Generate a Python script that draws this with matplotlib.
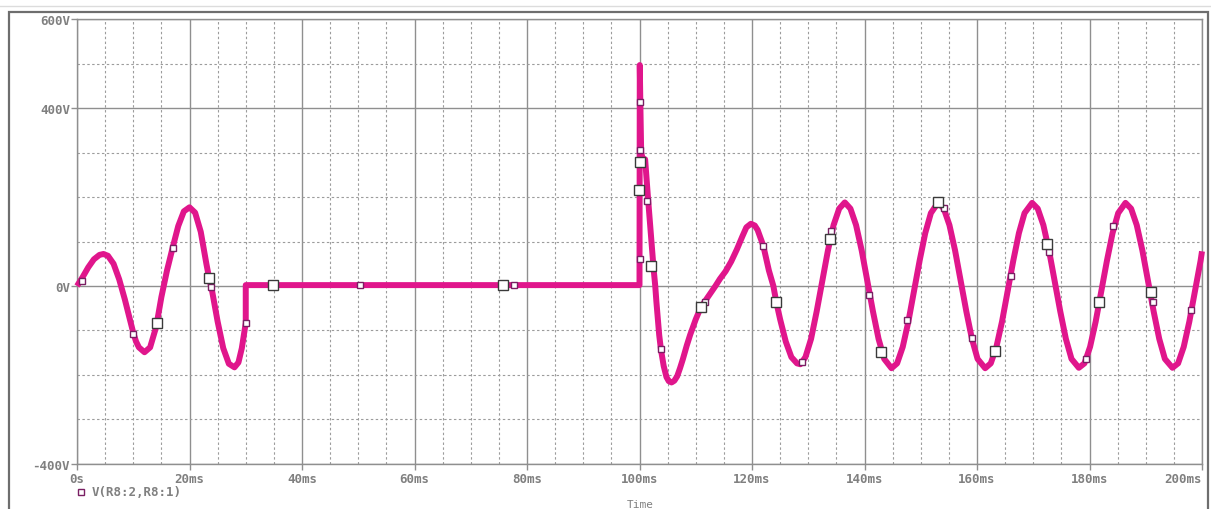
import matplotlib
matplotlib.use("Agg")
import matplotlib.pyplot as plt
from matplotlib.patches import Rectangle

# ---------------- data (time in ms, voltage in V) ----------------
t_ms = [0, 1, 2, 3, 4, 4.7, 5.5, 6.5, 7.5, 8.5, 9.5, 10, 10.5, 11, 12, 13, 14, 14.2, 15, 16,
        17, 18, 19, 20, 21, 22, 23, 23.5, 24, 25, 26, 27, 28, 28.7, 29.3, 30, 30,
        50, 75, 100,
        100.05, 100.15, 100.3, 100.6, 101.0, 101.5, 102.0, 102.5, 102.8, 103.0, 103.5, 103.8,
        104.3, 104.8, 105.2, 105.7, 106.2, 106.7, 107.2, 107.7, 108.4, 109, 110, 110.9, 111.6,
        112.5, 113.5, 114.3, 115.3, 116.3, 117.3, 118.3, 119, 119.8, 120.5, 121, 122, 123,
        123.8, 124.3, 125, 126, 127, 128, 128.6,
        129.5, 130.5, 131.5, 132.5, 133.5, 134.5, 135.5, 136.5,
        137.5, 138.5, 139.5, 140.5, 141.5, 142.5, 143.5, 144.8,
        145.8, 146.8, 147.8, 148.8, 149.8, 150.8, 151.8, 153.1,
        154.1, 155.1, 156.1, 157.1, 158.1, 159.1, 160.1, 161.45,
        162.45, 163.45, 164.45, 165.45, 166.45, 167.45, 168.45, 169.8,
        170.8, 171.8, 172.8, 173.8, 174.8, 175.8, 176.8, 178.1,
        179.1, 180.1, 181.1, 182.1, 183.1, 184.1, 185.1, 186.4,
        187.4, 188.4, 189.4, 190.4, 191.4, 192.4, 193.4, 194.75,
        195.75, 196.75, 197.75, 198.75, 199.75, 200.0]
v_volts = [0, 20, 42, 60, 70, 72, 68, 50, 15, -30, -80, -105, -125, -138, -149, -138, -95, -83, -25, 35,
           86, 135, 168, 177, 165, 122, 50, 17, -10, -80, -140, -175, -183, -172, -140, -83, 2,
           2, 2, 2,
           497, 410, 300, 285, 285, 200, 120, 40, 0, -35, -110, -142,
           -180, -205, -214, -217, -213, -203, -185, -165, -134, -110, -75, -48, -35,
           -18, 0, 16, 33, 55, 82, 112, 132, 140, 136, 126, 91, 35,
           0, -35, -75, -125, -160, -174, -176,
           -160, -119, -57, 12, 80, 137, 174, 188,
           174, 137, 80, 12, -57, -119, -164, -185,
           -174, -137, -80, -12, 57, 119, 164, 188,
           174, 137, 80, 12, -57, -119, -164, -185,
           -174, -137, -80, -12, 57, 119, 164, 187,
           174, 137, 80, 12, -57, -119, -164, -184,
           -174, -137, -80, -12, 57, 119, 164, 187,
           174, 137, 80, 12, -57, -119, -164, -184,
           -174, -137, -80, -12, 57, 78]

small_mark_t = [0.8, 10, 17, 23.9, 30, 50.3, 77.6, 100.0, 100.1, 100.0, 101.4, 103.8, 111.6, 122.0,
                128.8, 134.0, 140.8, 147.6, 154.1, 159.1, 166.0, 172.8, 179.4, 184.2, 191.2, 198.0]
small_mark_v = [12, -108, 86, -2, -83, 2, 2, 415, 305, 61, 192, -142, -35, 91,
                -170, 123, -20, -76, 175, -118, 23, 76, -164, 136, -35, -53]

big_mark_t = [14.2, 23.5, 34.9, 75.7, 100.1, 99.9, 102.1, 110.9, 124.3, 133.9, 142.9, 153.1,
              163.2, 172.5, 181.6, 190.9]
big_mark_v = [-83, 17, 2, 2, 278, 215, 46, -48, -35, 106, -148, 188,
              -146, 95, -35, -14]

x_major = [0, 20, 40, 60, 80, 100, 120, 140, 160, 180, 200]
x_labels = ["0s", "20ms", "40ms", "60ms", "80ms", "100ms", "120ms", "140ms", "160ms", "180ms", "200ms"]
y_major = [-400, 0, 400, 600]
y_labels = ["-400V", "0V", "400V", "600V"]
y_minor = [-300, -200, -100, 100, 200, 300, 500]
x_minor = [m for m in range(0, 201, 5) if m % 20 != 0]

trace_name = "V(R8:2,R8:1)"
x_title = "Time"

# ---------------- style ----------------
TRACE = "#E0168C"
GRAYTXT = "#808080"
GRIDMAJ = "#8f8f8f"
GRIDMIN = "#9c9c9c"
FONT = "DejaVu Sans Mono"

W, H = 1211, 510
fig = plt.figure(figsize=(W / 100, H / 100), dpi=100)
fig.patch.set_facecolor("white")

# outer frame
fig.add_artist(Rectangle((8.5 / W, -0.05), 1199 / W, (510 - 12.5) / H + 0.05,
                         transform=fig.transFigure, fill=False, edgecolor="#6e6e6e", lw=1.6))
fig.add_artist(plt.Line2D([0, 1], [1 - 6.5 / H, 1 - 6.5 / H], transform=fig.transFigure,
                          color="#dcdcdc", lw=1.0))

ax = fig.add_axes([77 / W, (510 - 464.8) / H, 1125 / W, (464.8 - 20.3) / H])
ax.set_xlim(0, 200)
ax.set_ylim(-400, 600)

ax.set_xticks(x_major)
ax.set_xticklabels(x_labels)
ax.set_xticks(x_minor, minor=True)
ax.set_yticks(y_major)
ax.set_yticklabels(y_labels)
ax.set_yticks(y_minor, minor=True)

ax.grid(which="major", color=GRIDMAJ, ls="-", lw=1.0)
ax.grid(which="minor", color=GRIDMIN, ls=(0, (2.2, 2.2)), lw=0.8)
ax.set_axisbelow(True)

for s in ax.spines.values():
    s.set_color(GRIDMAJ)
    s.set_linewidth(1.0)

ax.tick_params(which="major", length=4, width=1, color=GRIDMAJ, labelcolor=GRAYTXT,
               labelsize=9, pad=1)
ax.tick_params(axis="x", which="major", pad=2)
ax.tick_params(which="minor", length=0)
for lab in ax.get_xticklabels() + ax.get_yticklabels():
    lab.set_fontfamily(FONT)
    lab.set_fontweight("bold")
xt = ax.get_xticklabels()
xt[-1].set_horizontalalignment("right")

ax.plot(t_ms, v_volts, color=TRACE, lw=4.3, solid_joinstyle="round",
        solid_capstyle="butt", zorder=3, clip_on=False)
ax.plot(small_mark_t, small_mark_v, ls="none", marker="s", ms=4.2, mfc="white",
        mec="#7a1f63", mew=1.0, zorder=4, clip_on=False)
ax.plot(big_mark_t, big_mark_v, ls="none", marker="s", ms=7.0, mfc="white",
        mec="#3a3a3a", mew=1.0, zorder=5, clip_on=False)

# legend marker and name
fig.add_artist(plt.Line2D([81 / W], [1 - 493 / H], transform=fig.transFigure, ls="none",
                          marker="s", ms=4.2, mfc="white", mec="#7a1f63", mew=1.0))
fig.text(92 / W, 1 - 493 / H, trace_name, fontfamily=FONT, fontweight="bold", fontsize=9,
         color=GRAYTXT, ha="left", va="center")
fig.text(640 / W, 1 - 505 / H, x_title, fontfamily=FONT, fontsize=8, color=GRAYTXT,
         ha="center", va="center")

fig.savefig("out.png", dpi=100, facecolor="white")
